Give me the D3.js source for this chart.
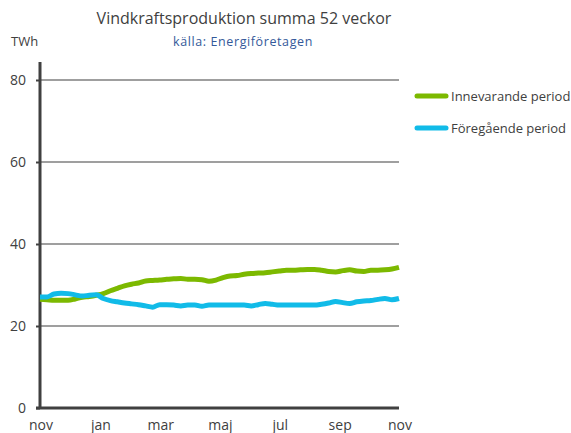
<!DOCTYPE html>
<html>
<head>
<meta charset="utf-8">
<script src="https://cdn.jsdelivr.net/npm/d3@7"></script>
<style>
  body { margin: 0; background: #fff; }
  text { font-family: "Open Sans", "Noto Sans", sans-serif; }
</style>
</head>
<body>
<svg width="571" height="433"></svg>
<script>
// month labels on the x axis (every other month, nov -> nov)
const monthLabels = ["nov", "jan", "mar", "maj", "jul", "sep", "nov"];
const yTicks = [0, 20, 40, 60, 80];

// weekly rolling 52-week sums, TWh
const innevarande = [26.5, 26.4, 26.3, 26.3, 26.3, 26.6, 27.0, 27.2, 27.5, 27.9, 28.6, 29.2,
  29.8, 30.2, 30.5, 31.0, 31.1, 31.2, 31.4, 31.5, 31.6, 31.4, 31.4, 31.3, 30.9, 31.2,
  31.8, 32.2, 32.3, 32.6, 32.8, 32.9, 33.0, 33.2, 33.4, 33.6, 33.6, 33.7, 33.8, 33.8,
  33.6, 33.3, 33.2, 33.5, 33.7, 33.4, 33.3, 33.6, 33.6, 33.7, 33.9, 34.3];
const foregaende = [27.1, 27.1, 27.8, 28.0, 27.9, 27.6, 27.3, 27.5, 27.6, 26.7, 26.2, 25.9,
  25.6, 25.4, 25.2, 24.9, 24.6, 25.2, 25.2, 25.1, 24.9, 25.1, 25.1, 24.8, 25.1, 25.1,
  25.1, 25.1, 25.1, 25.1, 24.9, 25.2, 25.5, 25.3, 25.1, 25.1, 25.1, 25.1, 25.1, 25.1,
  25.3, 25.6, 26.0, 25.7, 25.5, 25.9, 26.1, 26.2, 26.5, 26.7, 26.4, 26.7];

const series = [
  { name: "Innevarande period", values: innevarande, color: "#7cb900" },
  { name: "Föregående period", values: foregaende, color: "#11bbe8" }
];

const svg = d3.select("svg");
const m = { left: 40, right: 399, top: 80, bottom: 408 };
const axisColor = "#404040";

const x = d3.scaleLinear().domain([0, innevarande.length - 1]).range([m.left, m.right]);
const xm = d3.scaleLinear().domain([0, monthLabels.length - 1]).range([m.left, m.right]);
const y = d3.scaleLinear().domain([0, 80]).range([m.bottom, m.top]);

// gridlines
svg.append("g")
  .selectAll("line")
  .data(yTicks.filter(d => d > 0))
  .join("line")
  .attr("x1", m.left).attr("x2", m.right)
  .attr("y1", d => y(d)).attr("y2", d => y(d))
  .attr("stroke", axisColor)
  .attr("stroke-width", 1.2);

// y axis
const yAxis = svg.append("g")
  .attr("transform", `translate(${m.left},0)`)
  .call(d3.axisLeft(y).tickValues(yTicks).tickSize(4).tickPadding(10));
yAxis.select(".domain").attr("stroke", axisColor).attr("stroke-width", 3).attr("d", `M0,${m.top - 18}V${m.bottom}`);
yAxis.selectAll(".tick line").attr("stroke", axisColor).attr("stroke-width", 2);
yAxis.selectAll(".tick text").attr("fill", axisColor).style("font-size", "14px");

// x axis
svg.append("line")
  .attr("x1", m.left - 4).attr("x2", m.right)
  .attr("y1", m.bottom).attr("y2", m.bottom)
  .attr("stroke", axisColor).attr("stroke-width", 3);
svg.append("g")
  .selectAll("text")
  .data(monthLabels)
  .join("text")
  .attr("x", (d, i) => xm(i) + 1)
  .attr("y", 430)
  .attr("text-anchor", "middle")
  .attr("fill", axisColor)
  .style("font-size", "14px")
  .text(d => d);

// lines
const line = d3.line().x((d, i) => x(i)).y(d => y(d)).curve(d3.curveMonotoneX);
svg.append("g")
  .selectAll("path")
  .data(series)
  .join("path")
  .attr("d", d => line(d.values))
  .attr("fill", "none")
  .attr("stroke", d => d.color)
  .attr("stroke-width", 5)
  .attr("stroke-linejoin", "round");

// legend
const legend = svg.append("g")
  .selectAll("g")
  .data(series)
  .join("g")
  .attr("transform", (d, i) => `translate(417,${96 + i * 32})`);
legend.append("line")
  .attr("x1", 0).attr("x2", 29)
  .attr("stroke", d => d.color)
  .attr("stroke-width", 5)
  .attr("stroke-linecap", "round");
legend.append("text")
  .attr("x", 34).attr("y", 5)
  .attr("fill", axisColor)
  .style("font-size", "13px")
  .text(d => d.name);

// titles
svg.append("text")
  .attr("x", 244).attr("y", 24)
  .attr("text-anchor", "middle")
  .attr("fill", axisColor)
  .style("font-size", "16px")
  .text("Vindkraftsproduktion  summa 52 veckor");
svg.append("text")
  .attr("x", 243).attr("y", 46)
  .attr("text-anchor", "middle")
  .attr("fill", "#34599a")
  .style("font-size", "12.5px")
  .style("letter-spacing", "0.6px")
  .text("källa: Energiföretagen");
svg.append("text")
  .attr("x", 11).attr("y", 46)
  .attr("fill", axisColor)
  .style("font-size", "13px")
  .text("TWh");
</script>
</body>
</html>
